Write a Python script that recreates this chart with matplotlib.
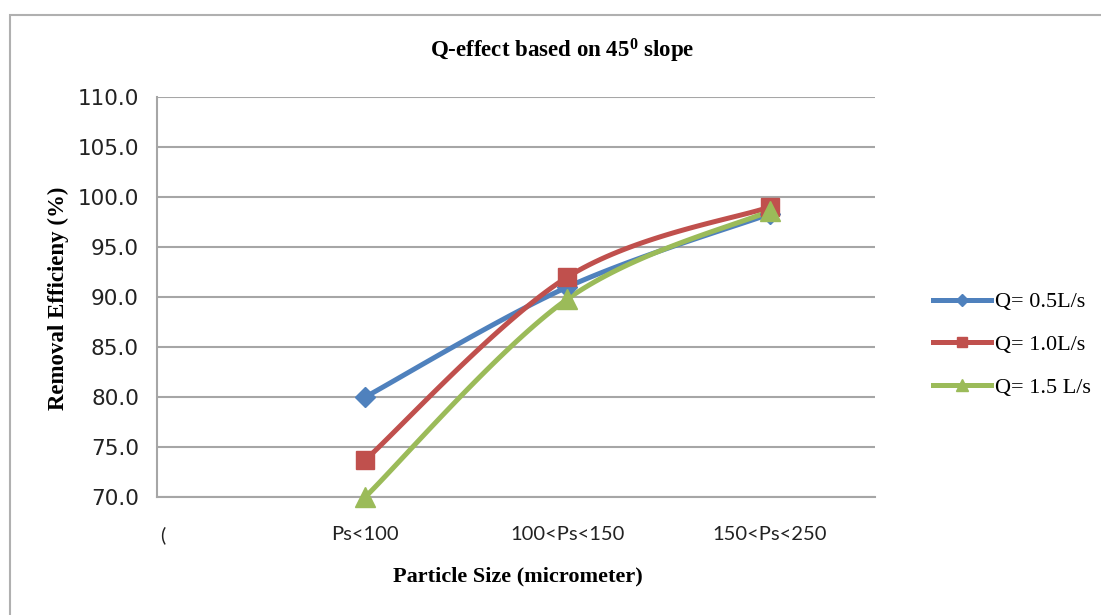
import matplotlib.pyplot as plt
import numpy as np
from matplotlib.patches import Rectangle

plt.rcParams['mathtext.fontset'] = 'custom'
plt.rcParams['mathtext.rm'] = 'Liberation Serif'
plt.rcParams['mathtext.bf'] = 'Liberation Serif:bold'

# Categories and removal efficiency for each flow rate
categories = ['Ps<100', '100<Ps<150', '150<Ps<250']
q05 = [80.0, 91.0, 98.3]
q10 = [73.7, 92.0, 99.0]
q15 = [70.0, 89.8, 98.6]
series_names = ['Q= 0.5L/s', 'Q= 1.0L/s', 'Q= 1.5 L/s']
y_ticks = [70, 75, 80, 85, 90, 95, 100, 105, 110]


def smooth(xs, ys, n=40):
    # Bezier smoothing through the points (control points from neighbours)
    xs = np.asarray(xs, float)
    ys = np.asarray(ys, float)
    pts = np.column_stack([xs, ys])
    out = []
    t = np.linspace(0, 1, n)[:, None]
    for i in range(len(pts) - 1):
        p0 = pts[max(i - 1, 0)]
        p1 = pts[i]
        p2 = pts[i + 1]
        p3 = pts[min(i + 2, len(pts) - 1)]
        c1 = p1 + (p2 - p0) / 6
        c2 = p2 - (p3 - p1) / 6
        seg = ((1 - t) ** 3) * p1 + 3 * ((1 - t) ** 2) * t * c1 + 3 * (1 - t) * t ** 2 * c2 + t ** 3 * p2
        out.append(seg)
    seg = np.vstack(out)
    return seg[:, 0], seg[:, 1]


fig = plt.figure(figsize=(11.01, 6.15), dpi=100)
fig.patches.append(Rectangle((10 / 1101, -0.05), 1.2, 1 - 15 / 615 + 0.05,
                             transform=fig.transFigure, fill=False,
                             edgecolor='#b0b0b0', linewidth=1.5))
ax = fig.add_axes([0.1426, 0.1919, 0.652, 0.6504])

x = np.arange(1, len(categories) + 1)
styles = [
    (q05, '#4F81BD', 'D', 10),
    (q10, '#C0504D', 's', 13),
    (q15, '#9BBB59', '^', 15),
]
for (vals, color, marker, ms), name in zip(styles, series_names):
    sx, sy = smooth(x, vals)
    ax.plot(sx, sy, color=color, linewidth=3.6, solid_capstyle='round', zorder=3)
    ax.plot(x, vals, linestyle='none', marker=marker, markersize=ms,
            color=color, zorder=4, clip_on=False)
    # legend handle
    ax.plot([], [], color=color, linewidth=3.6, marker=marker,
            markersize=ms * 0.6, label=name)

ax.set_ylim(70, 110)
ax.set_yticks(y_ticks)
ax.set_yticklabels([f'{v:.1f}' for v in y_ticks], fontsize=15.5,
                   family='DejaVu Sans', color='#222222')
ax.set_xlim(-0.03, 3.52)
ax.set_xticks([0] + list(x))
ax.set_xticklabels(['('] + categories, fontsize=14.5, family='Lato', color='#222222')
ax.tick_params(axis='x', length=0, pad=21)
ax.tick_params(axis='y', length=0, pad=13)
ax.grid(axis='y', color='#a6a6a6', linewidth=1.5)
ax.set_axisbelow(True)
for side in ['top', 'right']:
    ax.spines[side].set_visible(False)
for side in ['left', 'bottom']:
    ax.spines[side].set_color('#a6a6a6')
    ax.spines[side].set_linewidth(1.5)

fig.text(0.511, 0.918, r'Q-effect based on $\mathbf{45^0}$ slope', ha='center', va='center',
         fontsize=16.5, fontweight='bold', family='Liberation Serif')
fig.text(0.053, 0.515, 'Removal Efficieny (%)', rotation=90, ha='center', va='center',
         fontsize=16.5, fontweight='bold', family='Liberation Serif')
fig.text(0.47, 0.062, 'Particle Size (micrometer)', ha='center', va='center',
         fontsize=16, fontweight='bold', family='Liberation Serif')

ax.legend(loc='center left', bbox_to_anchor=(1.053, 0.38), frameon=False,
          prop={'family': 'Liberation Serif', 'size': 16}, handlelength=2.6,
          labelspacing=1.0, handletextpad=0.2)

fig.savefig('out.png', dpi=100)
